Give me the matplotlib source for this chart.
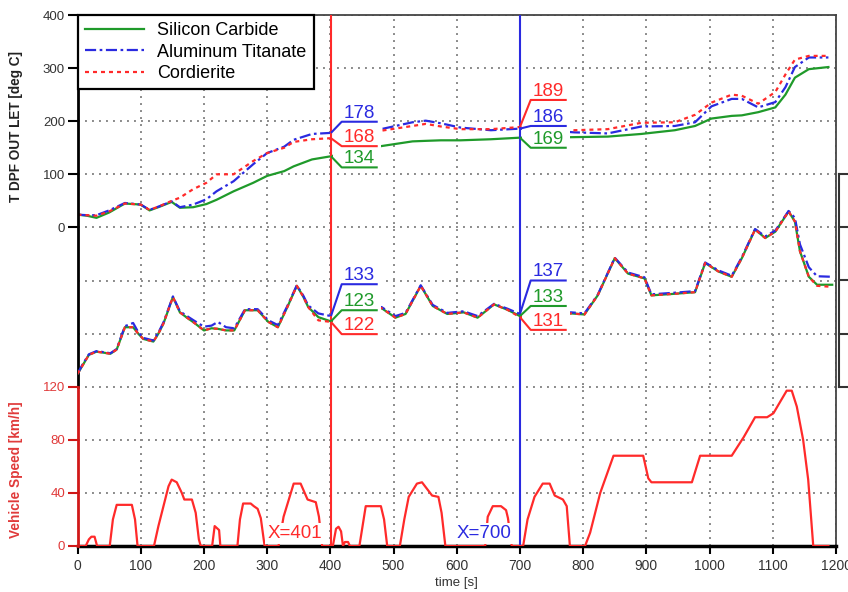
import matplotlib
matplotlib.use("Agg")
import matplotlib.pyplot as plt
from matplotlib.lines import Line2D
from matplotlib.patches import Rectangle
import matplotlib.transforms as mtransforms

plt.rcParams['font.family'] = ['Liberation Sans', 'DejaVu Sans']

# ---------------- data ----------------
series_names = ["Silicon Carbide", "Aluminum Titanate", "Cordierite"]

# DPF outlet temperature [deg C]
out_t = [0, 15, 30, 50, 75, 100, 114, 130, 149, 162, 183, 204, 220, 247, 278, 300,
         327, 342, 371, 401, 440, 480, 530, 551, 575, 606, 654, 700, 740, 786, 839,
         892, 945, 977, 1003, 1035, 1051, 1077, 1104, 1120, 1135, 1157, 1188]
out_sic = [24, 22, 18, 28, 45, 43, 32, 39, 48, 37, 38, 44, 52, 68, 84, 97,
           106, 115, 128, 134, 145, 153, 162, 163, 164, 164, 166, 169, 169, 170, 171,
           176, 183, 191, 205, 210, 211, 217, 226, 250, 282, 298, 302]
out_at = [24, 23, 23, 32, 46, 43, 33, 40, 49, 38, 43, 53, 68, 87, 119, 140,
          152, 165, 176, 178, 182, 185, 198, 201, 196, 188, 183, 186, 183, 179, 177,
          190, 191, 198, 228, 242, 242, 226, 236, 264, 302, 320, 320]
out_cor = [24, 23, 22, 30, 45, 43, 33, 40, 50, 56, 72, 84, 100, 100, 125, 140,
           150, 161, 166, 168, 176, 182, 191, 195, 190, 185, 185, 189, 186, 183, 185,
           197, 198, 212, 235, 250, 248, 233, 255, 288, 316, 323, 323]

# second temperature trace [deg C]
in_t = [0, 8, 18, 30, 42, 52, 62, 75, 88, 96, 104, 120, 128, 136, 151, 162, 172, 185,
        200, 212, 222, 235, 248, 265, 285, 302, 317, 332, 347, 357, 365, 381, 401,
        440, 481, 503, 519, 543, 562, 585, 611, 633, 659, 680, 700, 740, 781, 802,
        823, 850, 871, 897, 908, 945, 977, 993, 1014, 1035, 1051, 1072, 1088, 1104,
        1125, 1135, 1143, 1157, 1170, 1194]
in_sic = [24, 40, 60, 66, 64, 62, 70, 112, 112, 100, 90, 85, 100, 119, 169, 140, 131, 120,
          106, 110, 109, 106, 106, 144, 144, 122, 112, 150, 190, 170, 150, 131, 123,
          140, 148, 130, 137, 190, 152, 137, 140, 130, 155, 145, 133, 135, 138, 136,
          172, 242, 213, 204, 172, 175, 178, 233, 217, 207, 242, 296, 280, 292,
          330, 311, 255, 207, 192, 192]
in_at = [24, 42, 61, 67, 65, 63, 71, 114, 120, 103, 92, 87, 102, 121, 170, 142, 134, 124,
         113, 115, 122, 112, 110, 146, 146, 125, 116, 152, 191, 172, 153, 138, 133,
         143, 150, 133, 139, 191, 154, 139, 142, 133, 156, 147, 137, 137, 140, 138,
         173, 243, 215, 206, 174, 177, 180, 234, 219, 209, 244, 297, 283, 294,
         331, 318, 268, 225, 208, 207]
in_cor = [24, 40, 60, 66, 64, 62, 70, 112, 112, 100, 90, 85, 100, 119, 169, 140, 131, 120,
          106, 110, 109, 106, 106, 144, 144, 122, 112, 150, 190, 170, 150, 125, 122,
          140, 148, 130, 137, 190, 152, 137, 140, 130, 155, 145, 131, 134, 138, 136,
          172, 242, 213, 204, 172, 175, 178, 233, 217, 207, 242, 296, 280, 292,
          330, 311, 255, 207, 190, 188]

# vehicle speed [km/h]
speed_t = [0, 13, 18, 22, 27, 31, 51, 56, 62, 86, 91, 95,
           121, 128, 136, 144, 149, 157, 165, 169, 181, 187, 192, 195,
           213, 217, 224, 226, 253, 257, 262, 274, 279, 285, 290, 296,
           318, 326, 342, 353, 364, 377, 382, 387,
           404, 409, 413, 417, 420, 423, 428, 431,
           446, 451, 456, 480, 485, 490,
           510, 517, 524, 537, 545, 553, 561, 571, 576, 582,
           645, 649, 657, 670, 678, 681, 687,
           705, 712, 723, 736, 747, 755, 768, 774, 779,
           803, 811, 827, 848, 895, 903, 908, 972, 985, 1035, 1054, 1072, 1091,
           1101, 1122, 1130, 1138, 1148, 1156, 1164, 1188]
speed_v = [0, 0, 5, 7, 7, 0, 0, 20, 31, 31, 20, 0,
           0, 15, 30, 45, 50, 48, 40, 35, 35, 25, 5, 0,
           0, 15, 12, 0, 0, 20, 32, 32, 30, 28, 21, 0,
           0, 22, 47, 47, 35, 33, 22, 0,
           0, 13, 14.5, 11, 0, 3, 3, 0,
           0, 15, 30, 30, 20, 0,
           0, 20, 37, 47, 48, 43, 38, 37, 25, 0,
           0, 22, 30, 30, 27, 21, 0,
           0, 20, 37, 47, 47, 38, 35, 30, 0,
           0, 10, 40, 68, 68, 51, 48, 48, 68, 68, 82, 97, 97,
           100, 117, 117, 105, 80, 50, 0, 0]

# cursor readouts: (value, label height, series index)
cursors = [401, 700]
out_tags = {401: [(178, 199, 1), (168, 153, 2), (134, 113, 0)],
            700: [(189, 240, 2), (186, 191, 1), (169, 150, 0)]}
in_tags = {401: [(133, 193, 1), (123, 144, 0), (122, 99, 2)],
           700: [(137, 200, 1), (133, 152, 0), (131, 107, 2)]}

out_ticks = [0, 100, 200, 300, 400]
speed_ticks = [0, 40, 80, 120]
time_ticks = list(range(0, 1201, 100))

# ---------------- styling ----------------
GREEN = '#1f9a2a'
BLUE = '#2a2ae0'
RED = '#ff2a2a'
colors = [GREEN, BLUE, RED]
styles = [dict(linestyle='-'),
          dict(linestyle=(0, (5, 1.6, 1.2, 1.6))),
          dict(linestyle=(0, (1.8, 1.8)))]
LW = 1.6

W, H = 848, 592
fig = plt.figure(figsize=(W / 100, H / 100), dpi=100)
L, R, T, B = 77.5, 836, 15, 546
ax = fig.add_axes([L / W, 1 - B / H, (R - L) / W, (B - T) / H])
ax_in = ax.twinx()
ax_spd = ax.twinx()

ax.set_xlim(0, 1200)
ax.set_ylim(-600, 400)
ax_in.set_ylim(-300, 700)
ax_spd.set_ylim(0, 400)

# grid
ax.set_xticks(time_ticks)
ax.set_yticks(out_ticks)
ax.set_yticks(list(range(-500, 0, 100)), minor=True)
ax.grid(True, which='both', color='#8a8a8a', linestyle=(0, (1.0, 2.6)), linewidth=1.4)
ax.set_axisbelow(True)
ax.tick_params(axis='y', which='major', direction='out', length=7, width=1.5,
               color='black', labelcolor='#333333', labelsize=9.5, pad=2)
ax.tick_params(axis='y', which='minor', length=0)
ax.tick_params(axis='x', direction='out', length=6, width=1.5,
               color='black', labelcolor='#333333', labelsize=10, pad=3)

for s in ('top', 'right'):
    ax.spines[s].set_color('#444444')
    ax.spines[s].set_linewidth(1.3)
ax.spines['left'].set_linewidth(2)
ax.spines['left'].set_bounds(-300, 400)
ax.spines['bottom'].set_linewidth(2.5)

for a in (ax_in, ax_spd):
    for s in a.spines.values():
        s.set_visible(False)
ax_in.set_yticks([])

ax_spd.yaxis.tick_left()
ax_spd.set_yticks(speed_ticks)
ax_spd.spines['left'].set_visible(True)
ax_spd.spines['left'].set_color('#d01818')
ax_spd.spines['left'].set_linewidth(2)
ax_spd.spines['left'].set_bounds(0, 120)
ax_spd.tick_params(axis='y', direction='out', length=7, width=1.5,
                   color='#d01818', labelcolor='#e03a3a', labelsize=9.5, pad=2)

# curves
handles = []
for vals, c, st in zip([out_sic, out_at, out_cor], colors, styles):
    h, = ax.plot(out_t, vals, color=c, lw=LW, zorder=2, **st)
    handles.append(h)
for vals, c, st in zip([in_sic, in_at, in_cor], colors, styles):
    ax_in.plot(in_t, vals, color=c, lw=LW, zorder=2, **st)
ax_spd.plot(speed_t, speed_v, color=RED, lw=1.6, zorder=2)

# cursor lines
ax.axvline(cursors[0], color=RED, lw=1.5, zorder=4)
ax.axvline(cursors[1], color=BLUE, lw=1.5, zorder=4)


def readout(a, x, tags):
    lo = min(t[1] for t in tags) - 6
    hi = max(t[1] for t in tags) + 30
    a.add_patch(Rectangle((x + 3, lo), 76, hi - lo, facecolor='white',
                          edgecolor='none', zorder=3))
    for val, ylab, ci in tags:
        c = colors[ci]
        a.plot([x, x + 17, x + 74], [val, ylab, ylab], color=c, lw=1.5, zorder=5,
               solid_capstyle='butt')
        a.text(x + 20, ylab, str(val), color=c, fontsize=13.5, ha='left',
               va='bottom', zorder=6)


for x in cursors:
    readout(ax, x, out_tags[x])
    readout(ax_in, x, in_tags[x])

for x, c in zip(cursors, [RED, BLUE]):
    ax_spd.text(x - 14, 9.4, f"X={x}", color=c, fontsize=13.5, ha='right', va='center',
                zorder=6, bbox=dict(facecolor='white', edgecolor='none', pad=1.5))

# axis titles
fig.text(16 / W, 1 - 127 / H, "T DPF OUT LET [deg C]", rotation=90, ha='center',
         va='center', fontsize=9.8, fontweight='bold', color='#222222')
fig.text(16 / W, 1 - 470 / H, "Vehicle Speed [km/h]", rotation=90, ha='center',
         va='center', fontsize=9.8, fontweight='bold', color='#e03a3a')
ax.set_xlabel("time [s]", fontsize=9.5, color='#333333', labelpad=3)

# right-hand scale frame of the second temperature trace
tr = mtransforms.blended_transform_factory(fig.transFigure, ax_in.transData)
x0, x1 = 838.5 / W, 1.0
kw = dict(transform=tr, color='#333333', lw=1.5, clip_on=False)
fig.add_artist(Line2D([x0, x0], [0, 400], **kw))
for yv in [0, 100, 200, 300, 400]:
    fig.add_artist(Line2D([x0, x1], [yv, yv], **kw))

# legend
leg = ax_spd.legend(handles, series_names, loc='upper left', bbox_to_anchor=(0, 1),
                    bbox_transform=ax.transAxes, borderaxespad=0, frameon=True,
                    fancybox=False, edgecolor='black', framealpha=1, fontsize=13,
                    handlelength=3.3, handletextpad=0.72, labelspacing=0.24,
                    borderpad=0.4)
leg.get_frame().set_linewidth(1.6)
leg.set_zorder(10)

fig.savefig("out.png", dpi=100)
